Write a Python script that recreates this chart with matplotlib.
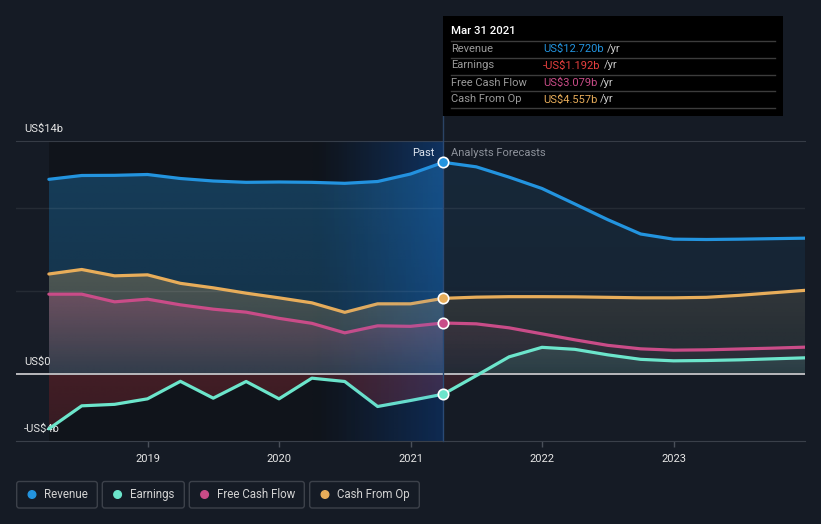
import numpy as np
import matplotlib
matplotlib.use("Agg")
import matplotlib.pyplot as plt
import matplotlib.colors as mcolors
from matplotlib.patches import Rectangle, FancyBboxPatch, Circle

plt.rcParams['font.family'] = ['Roboto', 'DejaVu Sans']

# ---- data (US$ billions, trailing twelve months / analyst forecasts) ----
past_t = [2018.25, 2018.5, 2018.75, 2019.0, 2019.25, 2019.5, 2019.75,
          2020.0, 2020.25, 2020.5, 2020.75, 2021.0, 2021.25]
fc_t = [2021.25, 2021.5, 2021.75, 2022.0, 2022.25, 2022.5, 2022.75,
        2023.0, 2023.25, 2023.5, 2023.75, 2024.0]

revenue_past = [11.70, 11.93, 11.94, 11.99, 11.75, 11.60, 11.52, 11.54, 11.52, 11.46, 11.57, 12.02, 12.72]
revenue_fc = [12.72, 12.45, 11.83, 11.15, 10.22, 9.28, 8.42, 8.11, 8.09, 8.11, 8.14, 8.17]
earnings_past = [-3.27, -1.89, -1.80, -1.47, -0.42, -1.43, -0.43, -1.47, -0.23, -0.43, -1.93, -1.57, -1.19]
earnings_fc = [-1.19, -0.08, 1.05, 1.62, 1.50, 1.17, 0.90, 0.81, 0.83, 0.87, 0.93, 0.99]
fcf_past = [4.81, 4.81, 4.35, 4.51, 4.17, 3.91, 3.73, 3.36, 3.06, 2.49, 2.91, 2.88, 3.08]
fcf_fc = [3.08, 3.03, 2.79, 2.43, 2.07, 1.74, 1.53, 1.45, 1.47, 1.52, 1.57, 1.63]
cfo_past = [6.02, 6.29, 5.91, 5.97, 5.46, 5.19, 4.87, 4.59, 4.29, 3.72, 4.23, 4.23, 4.56]
cfo_fc = [4.56, 4.63, 4.66, 4.66, 4.65, 4.62, 4.59, 4.59, 4.62, 4.74, 4.89, 5.04]

names = ['Revenue', 'Earnings', 'Free Cash Flow', 'Cash From Op']
tooltip_vals = ['US$12.720b', '-US$1.192b', 'US$3.079b', 'US$4.557b']
tooltip_date = 'Mar 31 2021'
year_ticks = [2019, 2020, 2021, 2022, 2023]
ylabel_vals = [14, 0, -4]
ylabel_text = ['US$14b', 'US$0', '-US$4b']
grid_vals = [10, 5]

BG = '#151b25'
PAST_BG = '#10141b'
C_REV = '#2394df'
C_EARN = '#6ce5cb'
C_FCF = '#c94c88'
C_CFO = '#e8ad5a'
C_NEG = '#d43a44'
colors = [C_REV, C_EARN, C_FCF, C_CFO]
value_colors = [C_REV, '#e8403f', C_FCF, C_CFO]

W, H = 821, 524
fig = plt.figure(figsize=(W / 100, H / 100), dpi=100, facecolor=BG)
ax = fig.add_axes([16 / W, 1 - 441 / H, (805 - 16) / W, (441 - 141) / H])
ax.set_facecolor(BG)


def grad_fill(t, v, color, a_far, a_near, z):
    t = np.asarray(t, float)
    v = np.asarray(v, float)
    poly = ax.fill_between(t, v, 0, facecolor='none', edgecolor='none')
    lo, hi = min(v.min(), 0), max(v.max(), 0)
    n = 64
    img = np.zeros((n, 1, 4))
    img[..., :3] = mcolors.to_rgb(color)
    lev = np.linspace(hi, lo, n)
    span = max(abs(hi), abs(lo)) or 1
    img[:, 0, 3] = a_near + (a_far - a_near) * np.abs(lev) / span
    im = ax.imshow(img, extent=[t.min(), t.max(), lo, hi], aspect='auto',
                   origin='upper', zorder=z, interpolation='bilinear')
    im.set_clip_path(poly.get_paths()[0], transform=ax.transData)


# background regions: dark "past" band and blue last-year highlight
hl0 = past_t[-1] - 1.0
ax.axvspan(past_t[0], hl0, color=PAST_BG, lw=0, zorder=0.3)
g = np.zeros((2, 64, 3))
x = np.linspace(0, 1, 64)[:, None] ** 1.3
left = np.array(mcolors.to_rgb(PAST_BG)) * 255
top_r = np.array([12, 41, 78])
bot_r = np.array([11, 32, 62])
g[0] = (left + (top_r - left) * x) / 255
g[1] = (left + (bot_r - left) * x) / 255
ax.imshow(g, extent=[hl0, past_t[-1], -4, 14], aspect='auto', zorder=0.4,
          interpolation='bilinear')

# area fills
grad_fill(past_t, revenue_past, C_REV, 0.32, 0.22, 1.0)
grad_fill(past_t, cfo_past, C_CFO, 0.28, 0.10, 1.1)
grad_fill(past_t, fcf_past, C_FCF, 0.28, 0.06, 1.2)
grad_fill(past_t, earnings_past, C_NEG, 0.20, 0.26, 1.3)

grad_fill(fc_t, revenue_fc, C_REV, 0.11, 0.07, 1.0)
grad_fill(fc_t, cfo_fc, C_CFO, 0.13, 0.05, 1.1)
grad_fill(fc_t, fcf_fc, C_FCF, 0.10, 0.03, 1.2)
grad_fill(fc_t, np.minimum(earnings_fc, 0), C_NEG, 0.15, 0.18, 1.3)
grad_fill(fc_t, np.maximum(earnings_fc, 0), C_EARN, 0.14, 0.10, 1.3)

# grid
for gv in grid_vals:
    ax.axhline(gv, color='white', alpha=0.07, lw=1, zorder=2)
ax.axhline(0, color='#b9b9bd', lw=1.4, zorder=2.5)

# lines
series = [(revenue_past, revenue_fc), (earnings_past, earnings_fc),
          (fcf_past, fcf_fc), (cfo_past, cfo_fc)]
for (p, f), c in zip(series, colors):
    ax.plot(past_t, p, color=c, lw=2.3, zorder=4, solid_capstyle='round',
            solid_joinstyle='round')
    ax.plot(fc_t, f, color=c, lw=2.3, zorder=4, solid_capstyle='round',
            solid_joinstyle='round')

# light blue veil over the highlight band
veil = np.zeros((1, 64, 4))
veil[..., :3] = np.array([40, 120, 230]) / 255
veil[0, :, 3] = np.linspace(0, 0.12, 64)
ax.imshow(veil, extent=[hl0, past_t[-1], -4, 14], aspect='auto', zorder=4.5,
          interpolation='bilinear')

# divider + markers
ax.axvline(past_t[-1], ymin=0, ymax=(441 - 116) / 300, color='#2b4466',
           lw=1, zorder=3, clip_on=False)
for (p, f), c in zip(series, colors):
    ax.plot(past_t[-1], p[-1], 'o', ms=7.5, mfc=c, mec='white', mew=1.2, zorder=6)

ax.annotate('Past', xy=(past_t[-1], 14), xytext=(-9, -12), textcoords='offset pixels',
            ha='right', va='center', color='#f0f0f0', fontsize=8)
ax.annotate('Analysts Forecasts', xy=(past_t[-1], 14), xytext=(8, -12),
            textcoords='offset pixels', ha='left', va='center', color='#8d929b', fontsize=8)

for v, lab in zip(ylabel_vals, ylabel_text):
    ax.annotate(lab, xy=(0, v), xycoords=('axes fraction', 'data'), xytext=(8, 12),
                textcoords='offset pixels', ha='left', va='center', color='#e6e6e6', fontsize=8)

ax.set_xlim(2018.0, 2024.0)
ax.set_ylim(-4, 14)
ax.set_yticks([])
ax.set_xticks(year_ticks)
ax.set_xticklabels([str(y) for y in year_ticks])
ax.tick_params(axis='x', colors='#4a505a', length=4, width=1, pad=5,
               labelcolor='#e6e6e6', labelsize=8)
for s in ['left', 'right']:
    ax.spines[s].set_visible(False)
ax.spines['bottom'].set_color('#3a404a')
ax.spines['top'].set_color('#363c46')

# ---- overlay in pixel coords: tooltip and legend ----
oax = fig.add_axes([0, 0, 1, 1], zorder=5)
oax.set_xlim(0, W)
oax.set_ylim(H, 0)
oax.axis('off')
oax.patch.set_alpha(0)

oax.add_patch(Rectangle((443, 16), 340, 100, facecolor='black', edgecolor='none'))
oax.text(451, 31.5, tooltip_date, color='white', fontsize=8.2, fontweight='medium',
         va='center', ha='left')
for yy in [40.7, 57.7, 74.5, 91.3, 108.3]:
    oax.plot([451, 775], [yy, yy], color='#3c3c3c', lw=1)
fig.canvas.draw()
rend = fig.canvas.get_renderer()
for i, (n, val, vc) in enumerate(zip(names, tooltip_vals, value_colors)):
    yy = 48.5 + i * 17
    oax.text(451, yy, n, color='#9a9a9a', fontsize=8, va='center', ha='left')
    t = oax.text(543, yy, val, color=vc, fontsize=8, va='center', ha='left')
    bb = t.get_window_extent(renderer=rend)
    oax.text(bb.x1 + 3, yy, '/yr', color='#c8c8c8', fontsize=8, va='center', ha='left')

boxes = [(16.7, 97.3), (102.3, 184.3), (189.3, 304.3), (309.7, 419.3)]
for (x0, x1), n, c in zip(boxes, names, colors):
    oax.add_patch(FancyBboxPatch((x0, 481.5), x1 - x0, 26.5,
                                 boxstyle='round,pad=0,rounding_size=2.5',
                                 facecolor='none', edgecolor='#3c414a', lw=1))
    oax.add_patch(Circle((x0 + 15.3, 494.5), 3.8, color=c))
    oax.text(x0 + 27.6, 494.5, n, color='#d2d2d2', fontsize=8.3, va='center', ha='left')

fig.savefig('out.png', dpi=100, facecolor=BG)
